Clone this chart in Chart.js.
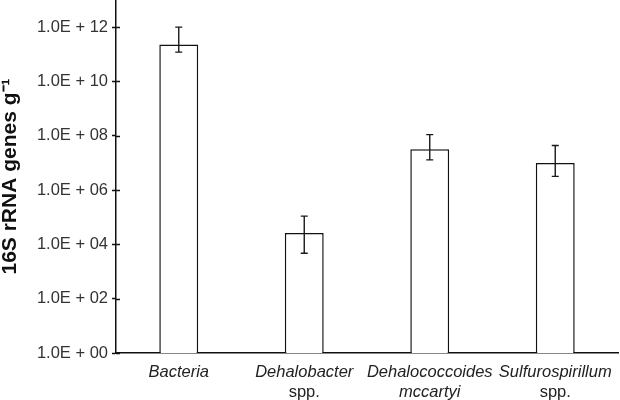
<!DOCTYPE html>
<html>
<head>
<meta charset="utf-8">
<script src="https://cdn.jsdelivr.net/npm/chart.js@4/dist/chart.umd.min.js"></script>
<style>
  body { margin: 0; background: #fff; }
</style>
</head>
<body>
<canvas id="geneChart" width="620" height="400"></canvas>
<script>
// data
const categories = ["Bacteria", "Dehalobacter", "Dehalococcoides", "Sulfurospirillum"];
const subLabels = ["", "spp.", "mccartyi", "spp."];
const subItalic = [false, false, true, false];
const geneCounts = [2.3e11, 2.6e4, 3.2e7, 1.0e7];
const errLow = [1.2e11, 4.7e3, 1.3e7, 3.2e6];
const errHigh = [1.0e12, 1.1e5, 1.1e8, 4.4e7];
const yTicks = [1e0, 1e2, 1e4, 1e6, 1e8, 1e10, 1e12];

const FONT = "'Liberation Sans', Arial, sans-serif";

// format like 1.0E + 12
function sciLabel(v) {
    const exp = Math.round(Math.log10(v));
    return "1.0E + " + String(exp).padStart(2, "0");
}

// error bars with caps
const errorBarPlugin = {
    id: "errorBars",
    afterDatasetsDraw(chart) {
        const ctx = chart.ctx;
        const x = chart.scales.x;
        const y = chart.scales.y;
        ctx.save();
        ctx.strokeStyle = "#1a1a1a";
        ctx.lineWidth = 1.4;
        errLow.forEach((lo, i) => {
            const px = x.getPixelForValue(i);
            const top = y.getPixelForValue(errHigh[i]);
            const bot = y.getPixelForValue(lo);
            ctx.beginPath();
            ctx.moveTo(px, top);
            ctx.lineTo(px, bot);
            ctx.moveTo(px - 3.5, top);
            ctx.lineTo(px + 3.5, top);
            ctx.moveTo(px - 3.5, bot);
            ctx.lineTo(px + 3.5, bot);
            ctx.stroke();
        });
        ctx.restore();
    }
};

// inner half of the y tick marks (ticks cross the axis)
const innerTicksPlugin = {
    id: "innerTicks",
    afterDraw(chart) {
        const ctx = chart.ctx;
        const y = chart.scales.y;
        const left = chart.chartArea.left;
        ctx.save();
        ctx.strokeStyle = "#111";
        ctx.lineWidth = 1.5;
        yTicks.forEach(v => {
            const py = Math.round(y.getPixelForValue(v)) + 0.5;
            ctx.beginPath();
            ctx.moveTo(left, py);
            ctx.lineTo(left + 4, py);
            ctx.stroke();
        });
        ctx.restore();
    }
};

// category labels, italic genus names
const xLabelPlugin = {
    id: "xLabels",
    afterDraw(chart) {
        const ctx = chart.ctx;
        const x = chart.scales.x;
        ctx.save();
        ctx.fillStyle = "#222";
        ctx.textAlign = "center";
        ctx.textBaseline = "middle";
        categories.forEach((name, i) => {
            const px = x.getPixelForValue(i);
            ctx.font = "italic 16.5px " + FONT;
            ctx.fillText(name, px, 372);
            if (subLabels[i]) {
                ctx.font = (subItalic[i] ? "italic " : "") + "16.5px " + FONT;
                ctx.fillText(subLabels[i], px, 392);
            }
        });
        ctx.restore();
    }
};

const ctx = document.getElementById("geneChart").getContext("2d");

new Chart(ctx, {
    type: "bar",
    data: {
        labels: categories,
        datasets: [{
            data: geneCounts,
            backgroundColor: "#fff",
            borderColor: "#111",
            borderWidth: 1.5,
            barPercentage: 0.31,
            categoryPercentage: 1.0
        }]
    },
    options: {
        responsive: false,
        animation: false,
        layout: {
            padding: { top: 0, right: 2, bottom: 47, left: 0 }
        },
        plugins: {
            legend: { display: false },
            tooltip: { enabled: false }
        },
        scales: {
            x: {
                grid: { display: false },
                border: { display: true, color: "#111", width: 1.5 },
                ticks: { display: false },
                afterFit(scale) {
                    scale.height = 0;
                    scale.paddingLeft = 0;
                    scale.paddingRight = 0;
                }
            },
            y: {
                type: "logarithmic",
                min: 1,
                max: 1e13,
                afterBuildTicks(scale) {
                    scale.ticks = yTicks.map(v => ({ value: v }));
                },
                afterFit(scale) {
                    scale.width = 116;
                    scale.paddingTop = 0;
                    scale.paddingBottom = 0;
                },
                grid: {
                    drawOnChartArea: false,
                    drawTicks: true,
                    tickLength: 4,
                    tickWidth: 1.5,
                    color: "#111"
                },
                border: { display: true, color: "#111", width: 1.5 },
                ticks: {
                    padding: 4,
                    color: "#333",
                    font: { family: FONT, size: 16.5 },
                    callback: (v) => sciLabel(v)
                },
                title: {
                    display: true,
                    text: "16S rRNA genes g\u207B\u00B9",
                    color: "#111",
                    padding: 0,
                    font: { family: FONT, size: 21, weight: "bold", lineHeight: 1 }
                }
            }
        }
    },
    plugins: [errorBarPlugin, innerTicksPlugin, xLabelPlugin]
});
</script>
</body>
</html>
